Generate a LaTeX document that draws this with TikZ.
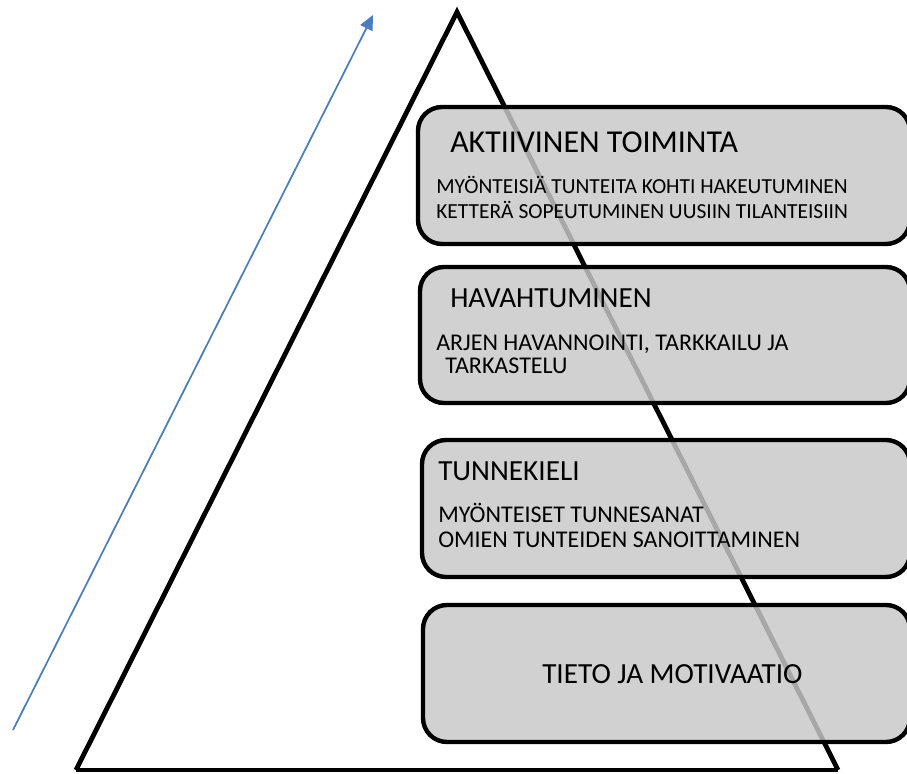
\documentclass[tikz,border=0pt]{standalone}
\usepackage{fontspec}
\setmainfont{Carlito}
\usetikzlibrary{arrows.meta}
\definecolor{boxgray}{RGB}{200,200,200}
\definecolor{arrowblue}{RGB}{74,126,187}
\begin{document}
\begin{tikzpicture}[x=0.75pt,y=-0.75pt,
  boxshape/.style={draw=black, line width=3.3pt, fill=boxgray, fill opacity=0.84, draw opacity=1, rounded corners=18pt},
  ttlbig/.style={anchor=base west, inner sep=0, font=\fontsize{23.9}{28}\selectfont},
  ttl/.style={anchor=base west, inner sep=0, font=\fontsize{21.9}{26}\selectfont},
  subsmall/.style={anchor=base west, inner sep=0, font=\fontsize{16.1}{19}\selectfont},
  sub/.style={anchor=base west, inner sep=0, font=\fontsize{18}{21}\selectfont},
]
\useasboundingbox (0,0) rectangle (907,774);
\coordinate (apex) at (457,12);
\coordinate (bl) at (76,770);
\coordinate (br) at (838,770);
\draw[line width=3.6pt] (bl) -- (apex) -- (br);
\draw[line width=2.4pt] (bl) -- (br);

\draw[boxshape] (418,107) rectangle (910,244);
\draw[boxshape] (420,267) rectangle (910,403);
\draw[boxshape] (422,440) rectangle (910,577);
\draw[boxshape] (423,605) rectangle (910,742);

\node[ttlbig] (t1) at (450,152) {AKTIIVINEN TOIMINTA};
\node[subsmall] (s1a) at (436,193) {MYÖNTEISIÄ TUNTEITA KOHTI HAKEUTUMINEN};
\node[subsmall] (s1b) at (436,218) {KETTERÄ SOPEUTUMINEN UUSIIN TILANTEISIIN};

\node[ttl] (t2) at (450,307) {HAVAHTUMINEN};
\node[sub] (s2a) at (436,350) {ARJEN HAVANNOINTI, TARKKAILU JA};
\node[sub] (s2b) at (445,373) {TARKASTELU};

\node[ttl] (t3) at (438,480) {TUNNEKIELI};
\node[sub] (s3a) at (438,522) {MYÖNTEISET TUNNESANAT};
\node[sub] (s3b) at (438,547) {OMIEN TUNTEIDEN SANOITTAMINEN};

\node[ttl] (t4) at (542,683) {TIETO JA MOTIVAATIO};

\coordinate (atail) at (13,730);
\coordinate (ahead) at (373,15);
\draw[arrowblue, line width=1.3pt, -{Triangle[length=11pt,width=10pt]}] (atail) -- (ahead);
\end{tikzpicture}
\end{document}
